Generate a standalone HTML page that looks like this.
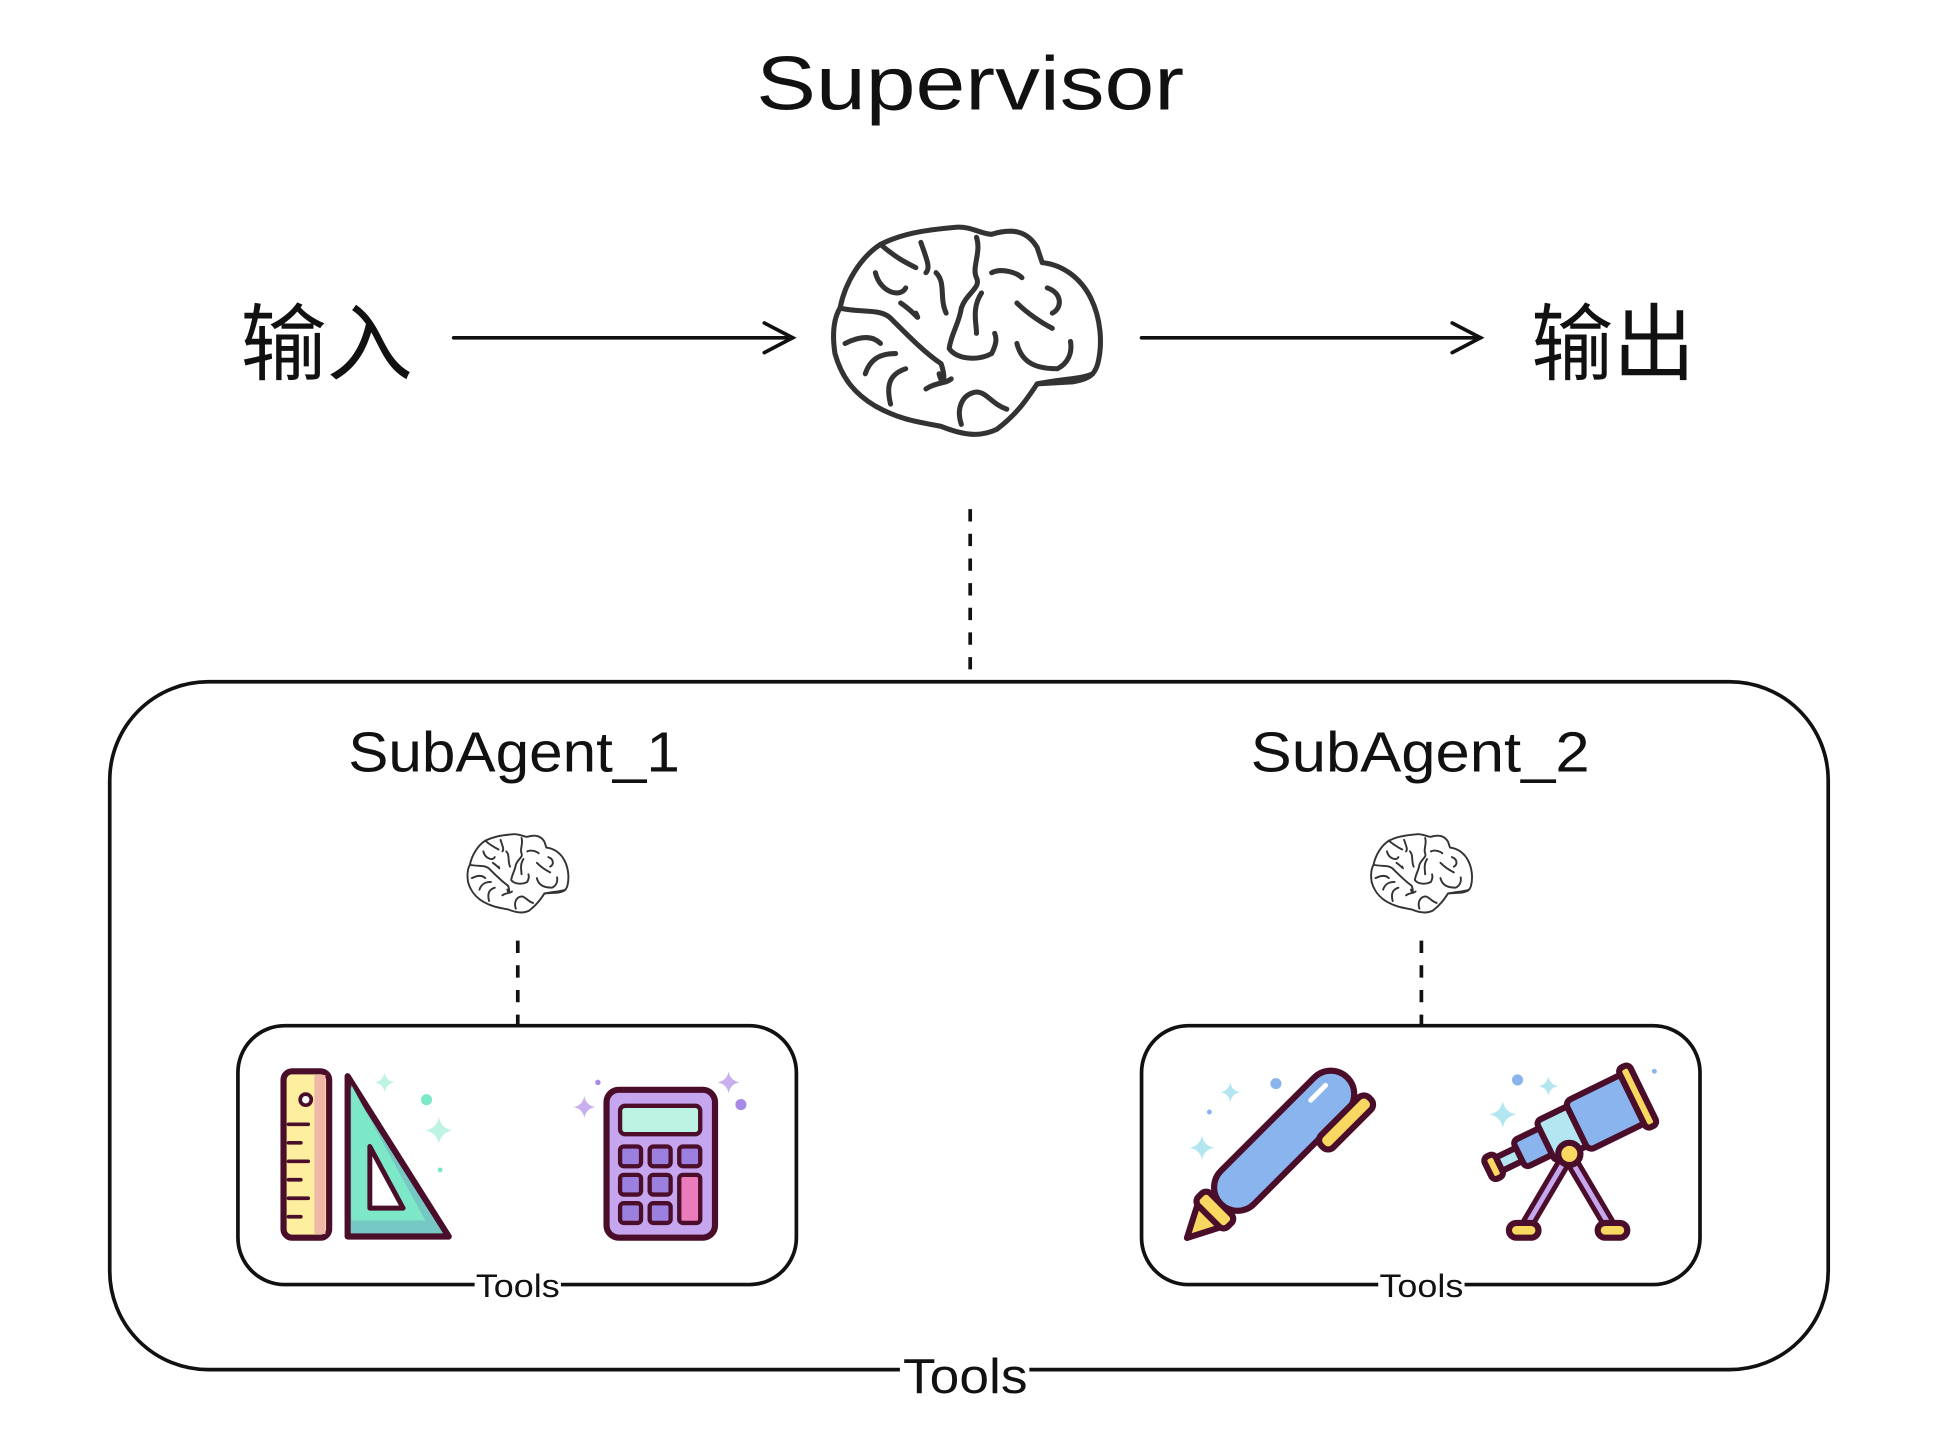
<!DOCTYPE html>
<html><head><meta charset="utf-8"><style>
html,body{margin:0;padding:0;background:#fff;}
svg{display:block}
text{font-family:"Liberation Sans","Noto Sans CJK SC",sans-serif;fill:#111}
</style></head><body>
<svg width="1933" height="1443" viewBox="0 0 1568 1170.5" xmlns="http://www.w3.org/2000/svg">
<defs>
<g id="brain" fill="none" stroke="#333" stroke-width="5" stroke-linecap="round" stroke-linejoin="round">
<path d="M20,95 C25,70 40,45 60,32 C80,22 100,18 135,15 C150,14 160,22 170,22 C190,16 205,18 215,35 L220,50 C240,52 258,65 268,85 C278,105 280,130 275,150 C272,160 268,165 250,168 L215,170 C205,185 195,200 175,215 C160,222 145,222 120,212 C100,208 80,206 55,192 C35,180 22,165 15,140 C12,120 14,105 20,95 Z"/>
<path d="M60,32 C75,45 85,50 95,55 M100,30 C105,45 110,55 105,60"/>
<path d="M55,60 C60,80 80,85 85,75 M80,90 C95,100 100,110 95,100"/>
<path d="M20,95 C40,100 60,95 70,105 C90,125 105,140 120,150 C125,165 122,175 118,160"/>
<path d="M155,25 C160,40 150,55 155,65 C160,75 145,80 140,95 C138,110 130,120 128,135 C135,145 155,148 170,140 C175,130 175,125 173,120"/>
<path d="M115,60 C125,70 118,85 125,100 M160,80 C150,95 155,110 155,120"/>
<path d="M170,60 C180,55 195,60 200,65 M195,90 C205,100 220,110 230,115 M225,75 C240,80 240,95 230,100"/>
<path d="M195,130 C200,150 215,155 235,155 C245,150 250,140 248,128"/>
<path d="M25,130 C45,120 55,125 60,130 M45,160 C50,145 60,140 75,140 M70,190 C65,170 70,160 85,155"/>
<path d="M105,175 C115,168 125,170 130,165 M140,210 C135,195 140,180 155,178 C165,178 170,190 185,195"/>
<path d="M215,170 C240,165 260,165 270,160"/>
</g>
<g id="spark"><path d="M0,-10 Q1.5,-1.5 10,0 Q1.5,1.5 0,10 Q-1.5,1.5 -10,0 Q-1.5,-1.5 0,-10Z"/></g>
</defs>

<text x="787" y="89" font-size="62" text-anchor="middle" textLength="347" lengthAdjust="spacingAndGlyphs">Supervisor</text>

<text x="195" y="303" font-size="68" textLength="140" lengthAdjust="spacingAndGlyphs">输入</text>
<text x="1242" y="303" font-size="68" textLength="133" lengthAdjust="spacingAndGlyphs">输出</text>

<g stroke="#111" stroke-width="3" fill="none" stroke-linecap="round">
<line x1="368" y1="274" x2="643" y2="274"/>
<polyline points="620,262 643,274 620,286"/>
<line x1="926" y1="274" x2="1201" y2="274"/>
<polyline points="1178,262 1201,274 1178,286"/>
</g>

<g transform="translate(665,172) scale(0.82)"><use href="#brain" stroke-width="6"/></g>

<g stroke="#111" stroke-width="3" stroke-dasharray="10,10">
<line x1="787" y1="413" x2="787" y2="552"/>
<line x1="420" y1="763" x2="420" y2="832"/>
<line x1="1153" y1="763" x2="1153" y2="832"/>
</g>

<rect x="89" y="553" width="1394" height="558" rx="80" fill="none" stroke="#111" stroke-width="3"/>
<rect x="730" y="1095" width="105" height="40" fill="#fff"/>
<text x="783" y="1130" font-size="40" text-anchor="middle" textLength="101" lengthAdjust="spacingAndGlyphs">Tools</text>

<text x="417" y="626" font-size="46" text-anchor="middle" textLength="269" lengthAdjust="spacingAndGlyphs">SubAgent_1</text>
<text x="1152" y="626" font-size="46" text-anchor="middle" textLength="275" lengthAdjust="spacingAndGlyphs">SubAgent_2</text>

<g transform="translate(375,672) scale(0.31)"><use href="#brain" stroke-width="6"/></g>
<g transform="translate(1108,672) scale(0.31)"><use href="#brain" stroke-width="6"/></g>

<rect x="193" y="832" width="453" height="210" rx="38" fill="#fff" stroke="#111" stroke-width="3"/>
<rect x="926" y="832" width="453" height="210" rx="38" fill="#fff" stroke="#111" stroke-width="3"/>
<rect x="385" y="1030" width="70" height="26" fill="#fff"/>
<rect x="1118" y="1030" width="70" height="26" fill="#fff"/>
<text x="420" y="1052" font-size="26" text-anchor="middle" textLength="68" lengthAdjust="spacingAndGlyphs">Tools</text>
<text x="1153" y="1052" font-size="26" text-anchor="middle" textLength="68" lengthAdjust="spacingAndGlyphs">Tools</text>

<g stroke="#4a0d2a" stroke-width="5" stroke-linecap="round">
<rect x="230" y="869" width="37" height="135" rx="7" fill="#fdeea0"/>
<rect x="255" y="872" width="9" height="129" fill="#eeb8a8" stroke="none"/>
<circle cx="248" cy="892" r="4.5" fill="#fff" stroke-width="3"/>
<line x1="234" y1="912" x2="250" y2="912" stroke-width="3"/>
<line x1="234" y1="927" x2="244" y2="927" stroke-width="3"/>
<line x1="234" y1="942" x2="250" y2="942" stroke-width="3"/>
<line x1="234" y1="957" x2="244" y2="957" stroke-width="3"/>
<line x1="234" y1="972" x2="250" y2="972" stroke-width="3"/>
<line x1="234" y1="987" x2="244" y2="987" stroke-width="3"/>
<path d="M282,873 L364,1003 L282,1003 Z" fill="#76c8c4" stroke-linejoin="round"/>
<path d="M285,880 L345,990 L285,990 Z" fill="#7de8c8" stroke="none"/>
<path d="M300,930 L327,980 L300,980 Z" fill="#fff" stroke-width="4" stroke-linejoin="round"/>
<rect x="492" y="884" width="88" height="120" rx="10" fill="#c6a6ee"/>
<rect x="503" y="897" width="65" height="23" rx="4" fill="#bdf3e3" stroke-width="3.5"/>
<g fill="#9c80e0" stroke-width="3.5">
<rect x="503" y="930" width="17" height="16" rx="3"/><rect x="527" y="930" width="17" height="16" rx="3"/><rect x="551" y="930" width="17" height="16" rx="3"/>
<rect x="503" y="953" width="17" height="16" rx="3"/><rect x="527" y="953" width="17" height="16" rx="3"/>
<rect x="503" y="976" width="17" height="16" rx="3"/><rect x="527" y="976" width="17" height="16" rx="3"/>
<rect x="551" y="953" width="17" height="39" rx="3" fill="#ea7cbc"/>
</g>
</g>
<g fill="#bdf3e3"><use href="#spark" transform="translate(312,878) scale(0.8)"/><use href="#spark" transform="translate(356,917) scale(1.1)"/></g>
<circle cx="346" cy="892" r="4.5" fill="#7de8c8"/><circle cx="357" cy="949" r="2" fill="#7de8c8"/>
<g fill="#c8b0f0"><use href="#spark" transform="translate(591,878) scale(0.9)"/><use href="#spark" transform="translate(474,898) scale(0.9)"/></g>
<circle cx="601" cy="896" r="4.5" fill="#a78ae6"/><circle cx="485" cy="878" r="2.2" fill="#a78ae6"/>

<g transform="translate(1030,937) rotate(-45)" stroke="#4a0d2a" stroke-width="5" stroke-linejoin="round">
<path d="M-95,0 L-68,-14 L-68,14 Z" fill="#f8d860"/>
<rect x="-70" y="-17" width="14" height="34" rx="5" fill="#f8d860"/>
<rect x="-56" y="-19" width="145" height="38" rx="19" fill="#8ab4ee"/>
<rect x="35" y="18" width="55" height="14" rx="6" fill="#f8d860"/>
<line x1="55" y1="-8" x2="72" y2="-8" stroke="#fff" stroke-width="4" stroke-linecap="round"/>
</g>
<g fill="#b3e6f0"><use href="#spark" transform="translate(975,931)"/><use href="#spark" transform="translate(998,886) scale(0.8)"/></g>
<circle cx="1035" cy="879" r="4.5" fill="#8ab4ee"/><circle cx="981" cy="902" r="2" fill="#8ab4ee"/>

<g stroke="#4a0d2a" stroke-width="5" stroke-linecap="round" stroke-linejoin="round">
<line x1="1272" y1="937" x2="1236" y2="998" stroke-width="12"/>
<line x1="1272" y1="937" x2="1308" y2="998" stroke-width="12"/>
<line x1="1272" y1="937" x2="1236" y2="998" stroke="#c6a6ee" stroke-width="4"/>
<line x1="1272" y1="937" x2="1308" y2="998" stroke="#c6a6ee" stroke-width="4"/>
<g transform="translate(1270,918) rotate(-26)">
<rect x="-62" y="-6" width="22" height="12" rx="4" fill="#b3e6f0"/>
<rect x="-70" y="-10" width="10" height="20" rx="4" fill="#f8d860"/>
<rect x="-42" y="-12" width="26" height="24" rx="4" fill="#8ab4ee"/>
<rect x="-18" y="-18" width="30" height="36" rx="4" fill="#b3e6f0"/>
<rect x="10" y="-22" width="52" height="44" rx="5" fill="#8ab4ee"/>
<rect x="60" y="-27" width="10" height="54" rx="4" fill="#f8d860"/>
</g>
<circle cx="1273" cy="936" r="9" fill="#f8d860"/>
<rect x="1224" y="992" width="24" height="12" rx="6" fill="#f8d860"/>
<rect x="1296" y="992" width="24" height="12" rx="6" fill="#f8d860"/>
</g>
<g fill="#b3e6f0"><use href="#spark" transform="translate(1219,904) scale(1.1)"/><use href="#spark" transform="translate(1256,881) scale(0.8)"/></g>
<circle cx="1231" cy="876" r="4.5" fill="#8ab4ee"/><circle cx="1342" cy="869" r="2" fill="#8ab4ee"/>
</svg>
</body></html>
